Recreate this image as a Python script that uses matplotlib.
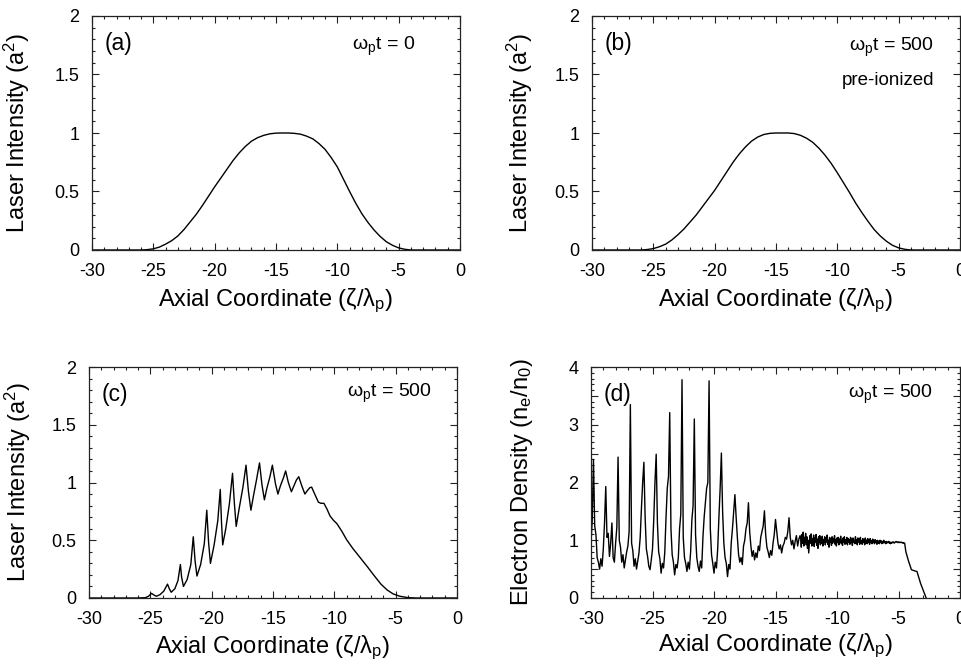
import matplotlib
matplotlib.use("Agg")
import matplotlib.pyplot as plt
import numpy as np
from matplotlib.ticker import MultipleLocator, FuncFormatter

plt.rcParams["font.family"] = ["Liberation Sans", "DejaVu Sans"]
plt.rcParams["mathtext.fontset"] = "custom"
plt.rcParams["mathtext.rm"] = "Liberation Sans"
plt.rcParams["mathtext.it"] = "Liberation Sans"
plt.rcParams["axes.unicode_minus"] = False

# ---- panel (a): omega_p t = 0 ----
xa = [-30, -26, -25.5, -25, -24.5, -24, -23.5, -23, -22.5, -22, -21.5, -21, -20.5,
      -20, -19.5, -19, -18.5, -18, -17.5, -17, -16.5, -16, -15.5, -15, -14.5, -14,
      -13.5, -13, -12.5, -12, -11.5, -11, -10.5, -10, -9.5, -9, -8.5, -8, -7.5, -7,
      -6.5, -6, -5.5, -5, -4.5, -4, 0]
ya = [0, 0, 0.003, 0.01, 0.025, 0.05, 0.08, 0.12, 0.175, 0.24, 0.305, 0.38, 0.46,
      0.54, 0.615, 0.69, 0.765, 0.83, 0.885, 0.93, 0.96, 0.98, 0.993, 0.999, 1.0, 1.0,
      0.997, 0.99, 0.973, 0.95, 0.91, 0.86, 0.79, 0.71, 0.605, 0.50, 0.40, 0.31, 0.235, 0.17,
      0.115, 0.07, 0.04, 0.018, 0.006, 0.0, 0]

# ---- panel (b): omega_p t = 500, pre-ionized ----
xb = [-30, -26, -25.5, -25, -24.5, -24, -23.5, -23, -22.5, -22, -21.5, -21, -20.5,
      -20, -19.5, -19, -18.5, -18, -17.5, -17, -16.5, -16, -15.5, -15, -14.5, -14,
      -13.5, -13, -12.5, -12, -11.5, -11, -10.5, -10, -9.5, -9, -8.5, -8, -7.5, -7,
      -6.5, -6, -5.5, -5, -4.5, -4, 0]
yb = [0, 0, 0.004, 0.012, 0.028, 0.05, 0.085, 0.13, 0.18, 0.24, 0.30, 0.37, 0.44,
      0.51, 0.59, 0.67, 0.75, 0.82, 0.88, 0.93, 0.965, 0.987, 0.997, 1.0, 1.0, 1.0,
      0.995, 0.98, 0.955, 0.92, 0.87, 0.81, 0.74, 0.66, 0.575, 0.49, 0.40, 0.32, 0.245, 0.175,
      0.12, 0.075, 0.04, 0.018, 0.006, 0.0, 0]

# ---- panel (c): omega_p t = 500, laser intensity ----
xc = [-30, -26, -25.4, -25.15, -24.9, -24.7, -24.5, -24.2, -23.9, -23.6, -23.45, -23.3,
      -23.0, -22.75, -22.55, -22.45, -22.3,
      -22.0, -21.7, -21.5, -21.35, -21.2,
      -20.9, -20.6, -20.4, -20.25, -20.1,
      -19.8, -19.5, -19.3, -19.2, -19.1,
      -18.85, -18.55, -18.3, -18.15, -18.0,
      -17.75, -17.45, -17.2, -17.0, -16.8,
      -16.6, -16.35, -16.1, -15.9, -15.7,
      -15.5, -15.25, -15.05, -14.8, -14.6,
      -14.4, -14.15, -13.97, -13.75, -13.5,
      -13.3, -13.1, -12.9, -12.65, -12.4,
      -12.2, -12.0, -11.85, -11.6, -11.3,
      -11.1, -10.85, -10.6, -10.35, -10.05, -9.8, -9.4, -9.0, -8.5, -7.9, -7.3, -6.8,
      -6.2, -5.7, -5.2, -4.65, -4.0, -3.3, 0]
yc = [0, 0, 0.003, 0.015, 0.04, 0.025, 0.015, 0.03, 0.06, 0.12, 0.08, 0.05,
      0.08, 0.15, 0.29, 0.18, 0.10,
      0.16, 0.29, 0.53, 0.32, 0.19,
      0.29, 0.47, 0.76, 0.48, 0.30,
      0.46, 0.67, 0.94, 0.66, 0.46,
      0.60, 0.82, 1.08, 0.82, 0.62,
      0.78, 0.96, 1.15, 0.92, 0.76,
      0.88, 1.02, 1.17, 0.98, 0.85,
      0.95, 1.05, 1.15, 0.99, 0.90,
      0.97, 1.04, 1.10, 1.00, 0.92,
      0.97, 1.02, 1.05, 0.97, 0.90,
      0.93, 0.955, 0.96, 0.90, 0.83,
      0.82, 0.82, 0.77, 0.71, 0.67, 0.645, 0.58, 0.505, 0.43, 0.35, 0.27, 0.20,
      0.12, 0.07, 0.035, 0.015, 0.003, 0, 0]

# ---- panel (d): electron density ----
# spiky part, sampled every 0.1 from -30.0 to -13.0
xd_spiky = np.round(np.arange(-30.0, -12.95, 0.1), 2)
yd_spiky = [
    0.95, 1.35, 2.40, 1.25, 1.10, 0.70, 0.62, 0.50, 0.68, 0.55,   # -30.0
    0.85, 1.30, 1.93, 1.05, 1.12, 0.72, 0.95, 1.30, 0.70, 0.62,   # -29.0
    0.95, 1.22, 2.44, 1.00, 0.88, 0.62, 0.75, 0.52, 0.66, 0.80,   # -28.0
    0.90, 1.15, 3.35, 0.95, 0.82, 0.55, 0.68, 0.50, 0.64, 0.78,   # -27.0
    1.05, 1.55, 2.00, 2.35, 1.40, 0.85, 0.72, 0.55, 0.49, 0.66,   # -26.0
    0.85, 1.35, 2.00, 2.49, 1.30, 0.80, 0.68, 0.43, 0.60, 0.52,   # -25.0
    0.80, 1.40, 1.90, 2.10, 3.21, 1.20, 0.75, 0.62, 0.40, 0.58,   # -24.0
    0.52, 0.70, 1.20, 1.45, 3.78, 1.05, 0.70, 0.60, 0.46, 0.62,   # -23.0
    0.50, 0.80, 1.35, 1.60, 3.10, 1.10, 0.70, 0.55, 0.46, 0.64,   # -22.0
    0.52, 1.05, 1.40, 1.65, 1.90, 2.00, 3.76, 1.20, 0.75, 0.60,   # -21.0
    0.43, 0.62, 0.52, 0.85, 1.40, 1.90, 2.51, 1.50, 0.95, 0.70,   # -20.0
    0.60, 0.37, 0.58, 0.50, 0.95, 1.20, 1.50, 1.79, 1.40, 1.05,   # -19.0
    0.75, 0.62, 0.70, 0.58, 0.90, 1.00, 1.20, 1.30, 1.65, 1.15,   # -18.0
    0.90, 0.72, 0.82, 0.66, 0.78, 0.70, 0.90, 0.82, 1.05, 1.15,   # -17.0
    1.25, 1.51, 1.10, 0.88, 0.80, 0.70, 0.82, 0.74, 0.95, 1.10,   # -16.0
    1.36, 1.15, 0.95, 0.85, 0.92, 0.78, 0.90, 0.95, 1.05, 1.02,   # -15.0
    1.15, 1.39, 1.05, 0.92, 1.00, 0.85, 0.98, 1.08, 0.90, 1.02,   # -14.0
    1.08,                                                         # -13.0
]
# noisy plateau, sampled every 0.05 from -12.95 to -4.50
xd_flat = np.round(np.arange(-12.95, -4.475, 0.05), 2)
yd_flat = [
    1.02, 0.88, 1.10, 0.95, 1.14, 0.90, 1.05, 0.97, 1.12, 0.92,   # -12.95
    1.06, 0.86, 1.00, 0.78, 0.92, 1.08, 0.95, 1.11, 0.90, 1.03,   # -12.45
    0.94, 1.09, 0.89, 1.04, 0.97, 1.10, 0.91, 1.02, 0.86, 1.06,   # -11.95
    0.96, 1.08, 0.92, 1.03, 0.95, 1.07, 0.90, 1.01, 0.97, 1.06,   # -11.45
    0.92, 1.04, 0.97, 1.09, 0.93, 1.00, 0.88, 1.05, 0.96, 1.02,   # -10.95
    0.91, 1.06, 0.95, 1.03, 0.98, 1.08, 0.93, 1.01, 0.90, 1.04,   # -10.45
    0.96, 1.05, 0.92, 1.02, 0.97, 1.07, 0.94, 1.00, 0.91, 1.04,   # -9.95
    0.97, 1.06, 0.93, 1.01, 0.95, 1.05, 0.92, 1.03, 0.97, 1.01,   # -9.45
    0.93, 1.05, 0.96, 1.02, 0.91, 1.04, 0.97, 1.00, 0.94, 1.06,   # -8.95
    0.95, 1.01, 0.92, 1.04, 0.97, 1.02, 0.93, 1.05, 0.96, 0.99,   # -8.45
    0.93, 1.03, 0.96, 1.01, 0.92, 1.04, 0.95, 1.00, 0.94, 1.03,   # -7.95
    0.96, 1.01, 0.93, 1.03, 0.97, 0.99, 0.94, 1.02, 0.96, 1.00,   # -7.45
    0.94, 1.01, 0.96, 0.99, 0.93, 1.00, 0.95, 0.98, 0.94, 1.00,   # -6.95
    0.96, 0.99, 0.94, 0.98, 0.95, 1.00, 0.96, 0.97, 0.94, 0.98,   # -6.45
    0.95, 0.97, 0.96, 0.98, 0.95, 0.97, 0.94, 0.96, 0.95, 0.97,   # -5.95
    0.96, 0.97, 0.95, 0.96, 0.97, 0.98, 0.97, 0.96, 0.97, 0.96,   # -5.45
    0.97, 0.96, 0.96, 0.97, 0.96, 0.96, 0.95, 0.96, 0.95, 0.95,   # -4.95
]
# trailing edge
xd_tail = [-4.4, -4.2, -3.95, -3.7, -3.5, -3.2, -2.75]
yd_tail = [0.80, 0.65, 0.49, 0.47, 0.46, 0.25, 0.0]

# ---- texts ----
XLABEL = r"Axial Coordinate ($\mathregular{\zeta/\lambda_p}$)"
YLABEL_I = r"Laser Intensity (a$\mathregular{^2}$)"
YLABEL_N = r"Electron Density (n$\mathregular{_e}$/n$\mathregular{_0}$)"


def style_axes(ax, ymax, ylabel, ylabel_x, xlabel_y):
    ax.set_xlim(-30, 0)
    ax.set_ylim(0, ymax)
    ax.xaxis.set_major_locator(MultipleLocator(5))
    ax.xaxis.set_minor_locator(MultipleLocator(1))
    ax.yaxis.set_major_locator(MultipleLocator(0.5))
    ax.yaxis.set_minor_locator(MultipleLocator(0.1))
    ax.xaxis.set_major_formatter(FuncFormatter(lambda v, p: "%g" % v))
    if ymax == 4:
        ax.yaxis.set_major_formatter(
            FuncFormatter(lambda v, p: "%d" % round(v) if abs(v - round(v)) < 1e-6 else ""))
    else:
        ax.yaxis.set_major_formatter(FuncFormatter(lambda v, p: "%g" % v))
    ax.tick_params(which="both", direction="in", top=True, right=True,
                   labelsize=13, width=0.8, color="#222222")
    ax.tick_params(which="major", length=5, pad=9)
    ax.tick_params(which="minor", length=2.5)
    for s in ax.spines.values():
        s.set_linewidth(0.9)
        s.set_color("#222222")
    ax.set_xlabel(XLABEL, fontsize=17, va="top")
    ax.set_ylabel(ylabel, fontsize=17)
    ax.xaxis.set_label_coords(0.5, xlabel_y)
    ax.yaxis.set_label_coords(ylabel_x, 0.5)


fig = plt.figure(figsize=(9.61, 6.66), dpi=100)
W, H = 961.0, 666.0
ax_a = fig.add_axes([92 / W, (666 - 250) / H, 368 / W, 234 / H])
ax_b = fig.add_axes([592 / W, (666 - 250) / H, 368 / W, 234 / H])
ax_c = fig.add_axes([89 / W, (666 - 598) / H, 368 / W, 231 / H])
ax_d = fig.add_axes([591 / W, (666 - 598) / H, 369 / W, 231 / H])

ax_a.plot(xa, ya, color="black", lw=1.0)
ax_b.plot(xb, yb, color="black", lw=1.0)
ax_c.plot(xc, yc, color="black", lw=1.0)
xd = list(xd_spiky) + list(xd_flat) + xd_tail
yd = yd_spiky + yd_flat + yd_tail
ax_d.plot(xd, yd, color="black", lw=1.0)

style_axes(ax_a, 2, YLABEL_I, -0.163, -0.155)
style_axes(ax_b, 2, YLABEL_I, -0.155, -0.155)
style_axes(ax_c, 2, YLABEL_I, -0.152, -0.152)
style_axes(ax_d, 4, YLABEL_N, -0.152, -0.147)

for ax, tag in [(ax_a, "(a)"), (ax_b, "(b)"), (ax_c, "(c)"), (ax_d, "(d)")]:
    ax.text(0.035, 0.93, tag, transform=ax.transAxes, fontsize=16.5, va="top")

OMEGA0 = r"$\mathregular{\omega_p t}$ = 0"
OMEGA500 = r"$\mathregular{\omega_p t}$ = 500"
ax_a.text(0.878, 0.855, OMEGA0, transform=ax_a.transAxes,
          fontsize=14, ha="right", va="baseline")
ax_b.text(0.929, 0.852, OMEGA500, transform=ax_b.transAxes,
          fontsize=14, ha="right", va="baseline")
ax_b.text(0.929, 0.705, "pre-ionized", transform=ax_b.transAxes,
          fontsize=13.5, ha="right", va="baseline")
ax_c.text(0.932, 0.872, OMEGA500, transform=ax_c.transAxes,
          fontsize=14, ha="right", va="baseline")
ax_d.text(0.927, 0.866, OMEGA500, transform=ax_d.transAxes,
          fontsize=14, ha="right", va="baseline")

fig.savefig("out.png", dpi=100)
